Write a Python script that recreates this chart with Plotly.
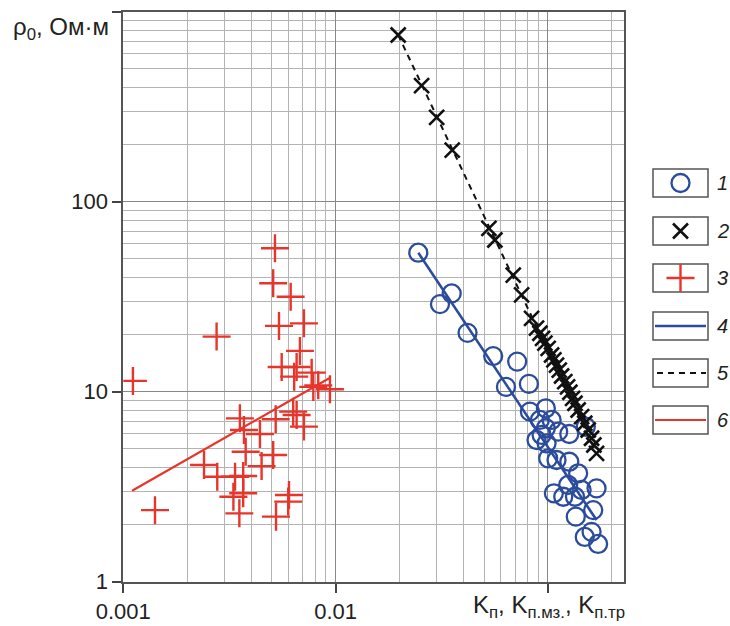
import plotly.graph_objects as go

# ---------------- data ----------------
# 1: open circles (blue)
circ_x = [0.0245, 0.0352, 0.031, 0.0418, 0.0552, 0.0716, 0.0634, 0.0813, 0.0822, 0.0977,
          0.0916, 0.104, 0.0977, 0.1117, 0.126, 0.1507, 0.0883, 0.0985, 0.0933, 0.1002,
          0.1097, 0.126, 0.1387, 0.1245, 0.1693, 0.1066, 0.118, 0.134, 0.144, 0.1633,
          0.1352, 0.149, 0.1604, 0.1722]
circ_y = [53.9, 32.9, 28.9, 20.4, 15.4, 14.4, 10.6, 10.99, 7.85, 8.18,
          7.1, 7.1, 6.42, 6.16, 5.99, 6.54, 5.57, 5.35, 5.92, 4.46,
          4.37, 4.28, 3.72, 3.23, 3.10, 2.92, 2.80, 2.80, 3.04, 2.38,
          2.20, 1.72, 1.83, 1.58]
# 2: crosses x (black)
xm_x = [0.0197, 0.0254, 0.0299, 0.0354, 0.0527, 0.0562, 0.0686, 0.0751, 0.0837, 0.0883,
        0.0916, 0.0943, 0.0967, 0.1002, 0.104, 0.1066, 0.1097, 0.113, 0.1159, 0.120,
        0.1237, 0.1268, 0.1306, 0.134, 0.1387, 0.144, 0.149, 0.1546, 0.1604, 0.1645, 0.1693]
xm_y = [754, 408, 278, 187, 72.4, 62.9, 41.1, 32.3, 24.3, 21.6,
        20.3, 19.1, 18.0, 16.9, 15.6, 14.7, 13.8, 13.0, 12.1, 11.3,
        10.6, 9.93, 9.23, 8.69, 8.01, 7.39, 6.82, 6.29, 5.69, 5.24, 4.74]
# 3: plus (red)
plus_x = [0.00518, 0.00508, 0.00614, 0.00541, 0.00709, 0.00275, 0.00679, 0.00557, 0.00655, 0.00638,
          0.00771, 0.00111, 0.00785, 0.00828, 0.0094, 0.00354, 0.00522, 0.00631, 0.00655, 0.00709,
          0.0037, 0.0044, 0.00377, 0.00508, 0.0024, 0.00448, 0.00277, 0.00336, 0.00367, 0.0033,
          0.00367, 0.00603, 0.00598, 0.00141, 0.00352, 0.00524]
plus_y = [56.9, 37.2, 31.6, 22.2, 22.9, 19.5, 16.4, 13.5, 13.5, 12.0,
          12.6, 11.4, 10.6, 10.8, 10.3, 7.24, 7.16, 7.85, 7.54, 6.55,
          6.29, 5.99, 4.83, 4.64, 4.11, 4.06, 3.57, 3.57, 3.6, 2.80,
          2.92, 2.86, 2.64, 2.38, 2.29, 2.20]
# 4,5,6: fitted lines
fit4_x = [0.0245, 0.1693]
fit4_y = [53.9, 2.11]
fit5_x = [0.0197, 0.1693]
fit5_y = [754, 4.74]
fit6_x = [0.0011, 0.00933]
fit6_y = [3.01, 11.77]

x_ticks = [0.001, 0.01, 0.1]
x_ticktext = ["0.001", "0.01", " "]
y_ticks = [1, 10, 100, 1000]
y_ticktext = ["1", "10", "100", " "]
legend_labels = ["1", "2", "3", "4", "5", "6"]

# ---------------- styles ----------------
W, H = 730, 626
BLUE = "#2b4c9c"
RED = "#e8352b"
BLACK = "#111111"
FONT = "Liberation Sans, Arial, sans-serif"

L, R, T, B = 123.3, 624.0, 11.7, 581.7

CIRC = dict(symbol="circle-open", size=18, color=BLUE, line=dict(color=BLUE, width=2.3))
XMK = dict(symbol="x-thin", size=15, color=BLACK, line=dict(color=BLACK, width=2.6))
PLUS = dict(symbol="cross-thin", size=20, color=RED, line=dict(color=RED, width=2.4))


def px(x):
    return x / W


def py(y):
    return 1 - y / H


def minor_vals(d0, d1):
    return [m * 10.0 ** d for d in range(d0, d1) for m in range(2, 10)]


fig = go.Figure()

fig.add_trace(go.Scatter(x=fit6_x, y=fit6_y, mode="lines",
                         line=dict(color=RED, width=2.2), showlegend=False))
fig.add_trace(go.Scatter(x=plus_x, y=plus_y, mode="markers", marker=PLUS, showlegend=False))
fig.add_trace(go.Scatter(x=fit4_x, y=fit4_y, mode="lines",
                         line=dict(color=BLUE, width=2.6), showlegend=False))
fig.add_trace(go.Scatter(x=circ_x, y=circ_y, mode="markers", marker=CIRC, showlegend=False))
fig.add_trace(go.Scatter(x=fit5_x, y=fit5_y, mode="lines",
                         line=dict(color=BLACK, width=2, dash="6px,5px"), showlegend=False))
fig.add_trace(go.Scatter(x=xm_x, y=xm_y, mode="markers", marker=XMK, showlegend=False))

# ---------------- custom legend (pixel overlay axes) ----------------
leg_y = [183, 231, 278, 326, 373, 420]
bx0, bx1 = 653, 708
bcx = (bx0 + bx1) / 2
shapes = []
for yc in leg_y:
    shapes.append(dict(type="rect", xref="x2", yref="y2", x0=bx0, x1=bx1,
                       y0=yc - 14, y1=yc + 14, line=dict(color="#555555", width=1.5),
                       fillcolor="white", layer="below"))

fig.add_trace(go.Scatter(x=[bcx], y=[leg_y[0]], xaxis="x2", yaxis="y2", mode="markers",
                         marker=CIRC, showlegend=False))
fig.add_trace(go.Scatter(x=[bcx], y=[leg_y[1]], xaxis="x2", yaxis="y2", mode="markers",
                         marker=XMK, showlegend=False))
fig.add_trace(go.Scatter(x=[bcx], y=[leg_y[2]], xaxis="x2", yaxis="y2", mode="markers",
                         marker=PLUS, showlegend=False))
fig.add_trace(go.Scatter(x=[bx0 + 2, bx1 - 2], y=[leg_y[3]] * 2, xaxis="x2", yaxis="y2",
                         mode="lines", line=dict(color=BLUE, width=2.6), showlegend=False))
fig.add_trace(go.Scatter(x=[bx0 + 4, bx1 - 2], y=[leg_y[4]] * 2, xaxis="x2", yaxis="y2",
                         mode="lines", line=dict(color=BLACK, width=2, dash="6px,5px"),
                         showlegend=False))
fig.add_trace(go.Scatter(x=[bx0 + 2, bx1 - 2], y=[leg_y[5]] * 2, xaxis="x2", yaxis="y2",
                         mode="lines", line=dict(color=RED, width=2.2), showlegend=False))

annotations = []
for lab, yc in zip(legend_labels, leg_y):
    annotations.append(dict(xref="x2", yref="y2", x=715, y=yc, text="<i>" + lab + "</i>",
                            showarrow=False, xanchor="left", yanchor="middle",
                            font=dict(family=FONT, size=20, color="#222222")))

annotations.append(dict(xref="paper", yref="paper", x=px(11), y=py(29),
                        text="ρ<sub>0</sub>, Ом·м", showarrow=False,
                        xanchor="left", yanchor="middle",
                        font=dict(family=FONT, size=24, color="#222222")))
annotations.append(dict(xref="paper", yref="paper", x=px(627), y=py(606),
                        text="K<sub>п</sub>, K<sub>п.мз.</sub>, K<sub>п.тр</sub>",
                        showarrow=False, xanchor="right", yanchor="middle",
                        font=dict(family=FONT, size=24, color="#222222")))

axis_common = dict(
    type="log", showline=True, mirror=True, linecolor="#555555", linewidth=2,
    ticks="outside", ticklen=9, tickwidth=1.5, tickcolor="#444444",
    showgrid=True, gridcolor="#888888", gridwidth=1.4, zeroline=False,
    tickfont=dict(family=FONT, size=22, color="#222222"),
    tickmode="array", automargin=False,
)

fig.update_layout(
    template="none",
    width=W, height=H,
    margin=dict(l=0, r=0, t=0, b=0, autoexpand=False),
    paper_bgcolor="white", plot_bgcolor="rgba(0,0,0,0)",
    xaxis=dict(axis_common, domain=[px(L), px(R)], range=[-3, -0.642],
               tickvals=x_ticks, ticktext=x_ticktext,
               minor=dict(tickvals=minor_vals(-3, 0), showgrid=True,
                          gridcolor="#b3b3b3", gridwidth=1.4, ticks="")),
    yaxis=dict(axis_common, domain=[py(B), py(T)], range=[0, 3],
               tickvals=y_ticks, ticktext=y_ticktext,
               minor=dict(tickvals=minor_vals(0, 3), showgrid=True,
                          gridcolor="#b3b3b3", gridwidth=1.4, ticks="")),
    xaxis2=dict(domain=[0, 1], range=[0, W], visible=False, fixedrange=True,
                anchor="y2", automargin=False),
    yaxis2=dict(domain=[0, 1], range=[H, 0], visible=False, fixedrange=True,
                anchor="x2", automargin=False),
    shapes=shapes,
    annotations=annotations,
    showlegend=False,
)

fig.write_html("out.html")
